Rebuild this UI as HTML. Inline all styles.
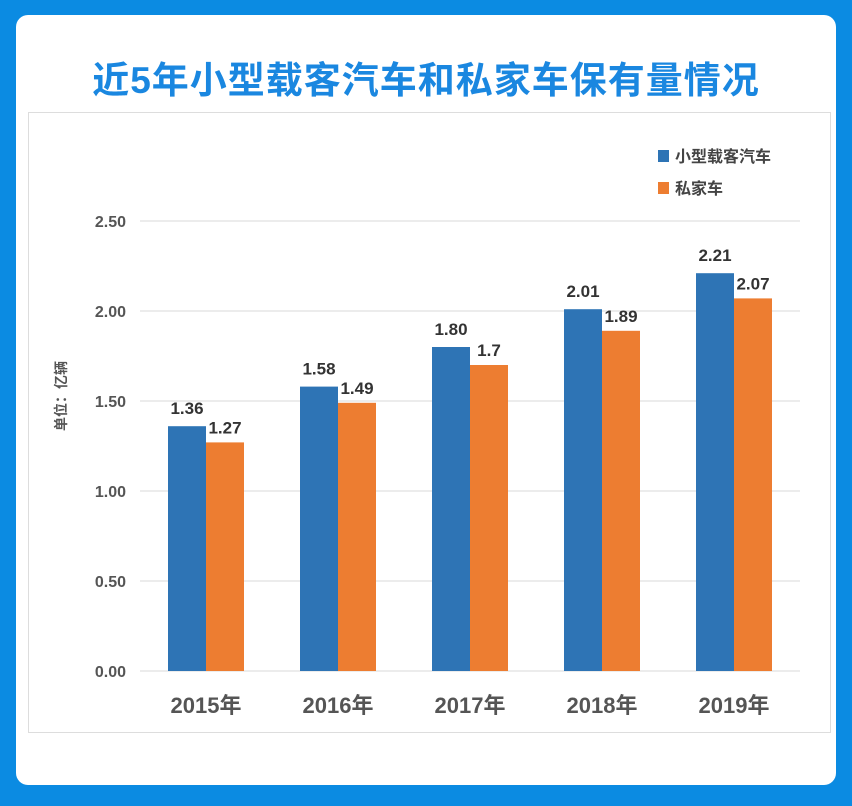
<!DOCTYPE html>
<html><head><meta charset="utf-8">
<style>
body{margin:0;width:852px;height:806px;background:#0b8be2;font-family:"Liberation Sans","Noto Sans CJK SC",sans-serif;overflow:hidden}
#panel{position:absolute;left:16px;top:15px;width:820px;height:770px;background:#fff;border-radius:12px}
#title{position:absolute;left:0;top:50px;width:852px;text-align:center;font-size:37px;font-weight:bold;color:#1a87e0;letter-spacing:1px}
svg{position:absolute;left:0;top:0}
</style></head><body>
<div id="panel"></div>
<div id="title">近5年小型载客汽车和私家车保有量情况</div>
<svg id="chart" width="852" height="806"></svg>
<script>
const categories=["2015年","2016年","2017年","2018年","2019年"];
const smallCars=[1.36,1.58,1.80,2.01,2.21];
const privateCars=[1.27,1.49,1.70,1.89,2.07];
const smallLabels=["1.36","1.58","1.80","2.01","2.21"];
const privateLabels=["1.27","1.49","1.7","1.89","2.07"];
const yTicks=[0,0.5,1,1.5,2,2.5];
const yTickLabels=["0.00","0.50","1.00","1.50","2.00","2.50"];
const svg=document.getElementById('chart');
const NS='http://www.w3.org/2000/svg';
const y0=671,pxPer=180,x0=140,step=132,bw=38;
const yS=v=>y0-v*pxPer;
const xC=i=>x0+66+i*step;
function mk(t,a,txt){const e=document.createElementNS(NS,t);for(const k in a)e.setAttribute(k,a[k]);if(txt!==undefined)e.textContent=txt;svg.appendChild(e);return e;}
let e=mk('rect',{x:28.5,y:112.5,width:802,height:620,fill:'none',stroke:'#ddd'});


yTicks.forEach((v,i)=>{
 let g=mk('line',{x1:x0,x2:800,y1:yS(v),y2:yS(v),stroke:'#d9d9d9','stroke-width':1});
 
 
 let t=mk('text',{x:126,y:yS(v)+6,'text-anchor':'end','font-size':16,'font-weight':'bold',fill:'#555'},yTickLabels[i]);
 
 
});
e=mk('text',{x:0,y:0,transform:'translate(66,396) rotate(-90)','text-anchor':'middle','font-size':14,'font-weight':'bold',fill:'#555'},'单位：亿辆');


categories.forEach((c,i)=>{
 const cx=xC(i);
 let b=mk('rect',{x:cx-bw,y:yS(smallCars[i]),width:bw,height:smallCars[i]*pxPer,fill:'#2e74b5'});
 
 
 let o=mk('rect',{x:cx,y:yS(privateCars[i]),width:bw,height:privateCars[i]*pxPer,fill:'#ed7d31'});
 
 
 let l1=mk('text',{x:cx-bw/2,y:yS(smallCars[i])-12,'text-anchor':'middle','font-size':17,'font-weight':'bold',fill:'#333'},smallLabels[i]);
 
 
 let l2=mk('text',{x:cx+bw/2,y:yS(privateCars[i])-9,'text-anchor':'middle','font-size':17,'font-weight':'bold',fill:'#333'},privateLabels[i]);
 
 
 let xl=mk('text',{x:cx,y:713,'text-anchor':'middle','font-size':22,'font-weight':'bold',fill:'#555'},c);
 
 
});
e=mk('rect',{x:658,y:150,width:11,height:12,fill:'#2e74b5'});


e=mk('text',{x:675,y:162,'font-size':16,'font-weight':'bold',fill:'#444'},'小型载客汽车');


e=mk('rect',{x:658,y:182,width:11,height:12,fill:'#ed7d31'});


e=mk('text',{x:675,y:194,'font-size':16,'font-weight':'bold',fill:'#444'},'私家车');


</script>
</body></html>
